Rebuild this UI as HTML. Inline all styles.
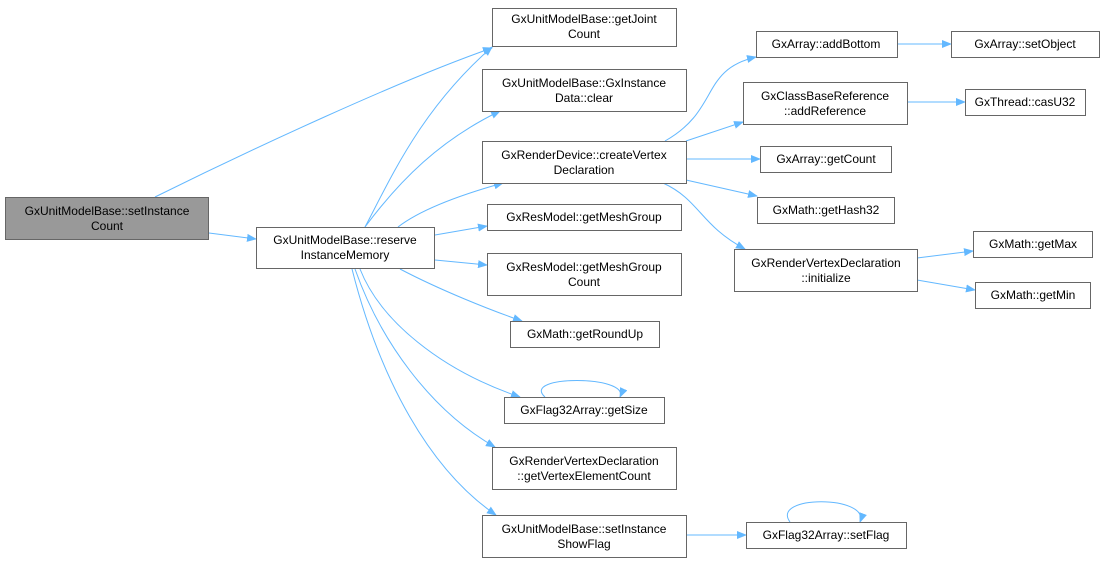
<!DOCTYPE html>
<html><head><meta charset="utf-8"><style>
body{margin:0;background:#fff;width:1104px;height:563px;overflow:hidden}
svg text{font-family:"Liberation Sans",Arial,sans-serif;font-size:12px;fill:#000}
</style></head><body>
<svg width="1104" height="563" viewBox="0 0 1104 563" xmlns="http://www.w3.org/2000/svg">
<defs><marker id="a" markerWidth="10" markerHeight="8" refX="9" refY="4" orient="auto" markerUnits="userSpaceOnUse"><path d="M0,0 L10,4 L0,8 z" fill="#63b8ff"/></marker></defs>
<g fill="none" stroke="#63b8ff" stroke-width="1" marker-end="url(#a)">
<path d="M155,197 C250,150 400,80 492,48"/>
<path d="M209,233 L256,239"/>
<path d="M365,227 C390,180 420,110 492,47"/>
<path d="M365,227 C400,180 440,140 500,111"/>
<path d="M398,227 C420,210 460,195 503,183"/>
<path d="M435,235 L487,226"/>
<path d="M435,260 L487,265"/>
<path d="M400,269 C440,290 490,310 522,321"/>
<path d="M360,269 C380,320 440,370 520,397"/>
<path d="M355,269 C380,340 430,410 495,447"/>
<path d="M352,269 C380,380 430,470 496,515"/>
<path d="M545,397 C520,375 630,375 620,397"/>
<path d="M665,141 C720,110 700,70 756,57"/>
<path d="M686,141 L743,122"/>
<path d="M686,159 L760,159"/>
<path d="M686,180 L757,196"/>
<path d="M663,183 C700,200 700,225 745,249"/>
<path d="M897,44 L951,44"/>
<path d="M907,102 L965,102"/>
<path d="M917,258 L973,251"/>
<path d="M917,280 L975,290"/>
<path d="M686,535 L746,535"/>
<path d="M790,522 C770,495 870,495 860,522"/>
</g>
<g stroke="#666" stroke-width="1">
<rect x="5.5" y="197.5" width="203" height="42" fill="#999"/>
<g fill="#fff">
<rect x="256.5" y="227.5" width="178" height="41"/>
<rect x="492.5" y="8.5" width="184" height="38"/>
<rect x="482.5" y="69.5" width="204" height="42"/>
<rect x="482.5" y="141.5" width="204" height="42"/>
<rect x="487.5" y="204.5" width="194" height="26"/>
<rect x="487.5" y="253.5" width="194" height="42"/>
<rect x="510.5" y="321.5" width="149" height="26"/>
<rect x="504.5" y="397.5" width="160" height="26"/>
<rect x="492.5" y="447.5" width="184" height="42"/>
<rect x="482.5" y="515.5" width="204" height="42"/>
<rect x="756.5" y="31.5" width="141" height="26"/>
<rect x="743.5" y="82.5" width="164" height="42"/>
<rect x="760.5" y="146.5" width="131" height="26"/>
<rect x="757.5" y="197.5" width="137" height="26"/>
<rect x="734.5" y="249.5" width="183" height="42"/>
<rect x="746.5" y="522.5" width="160" height="26"/>
<rect x="951.5" y="31.5" width="148" height="26"/>
<rect x="965.5" y="89.5" width="120" height="26"/>
<rect x="973.5" y="231.5" width="119" height="26"/>
<rect x="975.5" y="282.5" width="115" height="26"/>
</g></g>
<g text-anchor="middle">
<text x="107" y="215">GxUnitModelBase::setInstance</text><text x="107" y="230">Count</text>
<text x="345" y="244">GxUnitModelBase::reserve</text><text x="345" y="259">InstanceMemory</text>
<text x="584" y="23">GxUnitModelBase::getJoint</text><text x="584" y="38">Count</text>
<text x="584" y="87">GxUnitModelBase::GxInstance</text><text x="584" y="102">Data::clear</text>
<text x="584" y="159">GxRenderDevice::createVertex</text><text x="584" y="174">Declaration</text>
<text x="584" y="221">GxResModel::getMeshGroup</text>
<text x="584" y="271">GxResModel::getMeshGroup</text><text x="584" y="286">Count</text>
<text x="585" y="338">GxMath::getRoundUp</text>
<text x="584" y="414">GxFlag32Array::getSize</text>
<text x="584" y="465">GxRenderVertexDeclaration</text><text x="584" y="480">::getVertexElementCount</text>
<text x="584" y="533">GxUnitModelBase::setInstance</text><text x="584" y="548">ShowFlag</text>
<text x="826" y="48">GxArray::addBottom</text>
<text x="825" y="100">GxClassBaseReference</text><text x="825" y="115">::addReference</text>
<text x="826" y="163">GxArray::getCount</text>
<text x="826" y="214">GxMath::getHash32</text>
<text x="826" y="267">GxRenderVertexDeclaration</text><text x="826" y="282">::initialize</text>
<text x="826" y="539">GxFlag32Array::setFlag</text>
<text x="1025" y="48">GxArray::setObject</text>
<text x="1025" y="106">GxThread::casU32</text>
<text x="1033" y="248">GxMath::getMax</text>
<text x="1033" y="299">GxMath::getMin</text>
</g>
</svg>
</body></html>
